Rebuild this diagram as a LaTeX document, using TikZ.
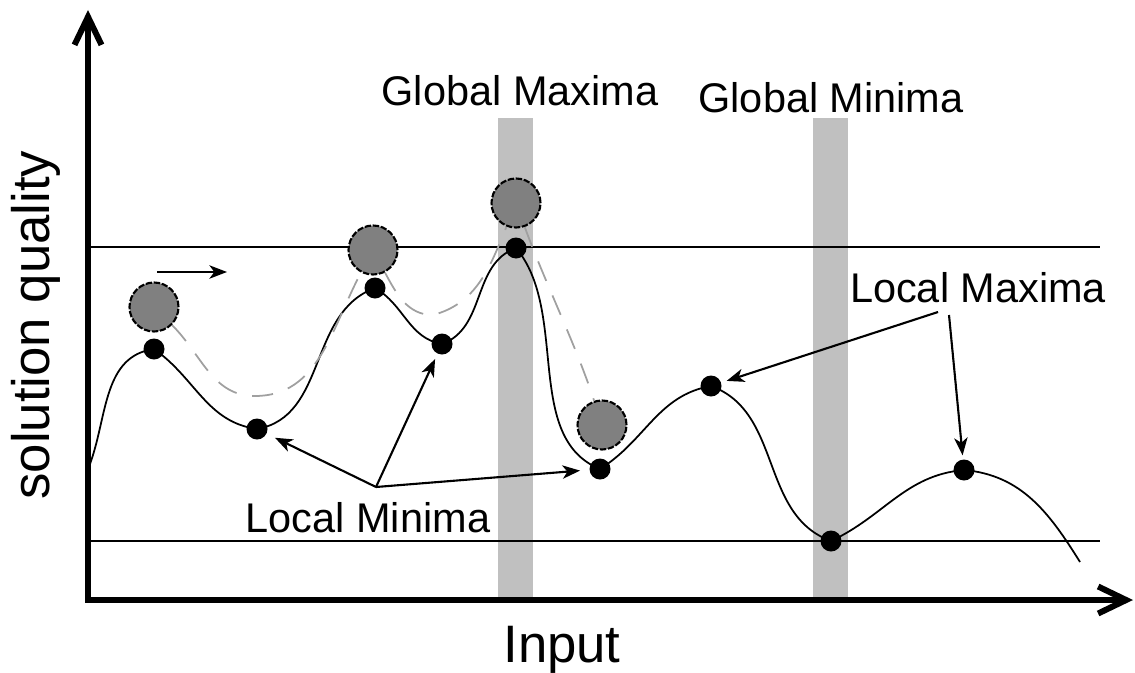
\documentclass[tikz,border=0pt]{standalone}
\usepackage{fontspec}
\setmainfont{Liberation Sans}
\usepackage{tikz}
\usetikzlibrary{arrows.meta}

\definecolor{ballgray}{RGB}{128,128,128}
\definecolor{bandgray}{RGB}{192,192,192}
\definecolor{trailgray}{RGB}{160,160,160}

\begin{document}
\begin{tikzpicture}[
  dot/.style = {circle, fill=black, inner sep=0pt, minimum size=0.21cm},
  ball/.style = {circle, draw=black, fill=ballgray, line width=0.6pt,
                 dash pattern=on 1.8pt off 0.5pt, inner sep=0pt, minimum size=0.49cm},
  lbl/.style = {font=\fontsize{11.8}{14}\selectfont, inner sep=0pt, anchor=base},
  ttl/.style = {font=\fontsize{15}{18}\selectfont, inner sep=0pt, anchor=base},
  ptr/.style = {line width=0.6pt, -{Stealth[length=5pt,width=3.8pt,inset=1.4pt]}},
  level/.style = {line width=0.55pt}
]
  \useasboundingbox (0,0) rectangle (11.35,6.72);

  % bands through the global optima
  \fill[bandgray] (4.98,0.72) rectangle (5.33,5.54);
  \fill[bandgray] (8.13,0.72) rectangle (8.48,5.54);

  % axes
  \coordinate (O) at (0.88,0.72);
  \coordinate (ytip) at (0.88,6.62);
  \coordinate (xtip) at (11.33,0.72);
  \draw[line width=1.7pt,
        {Straight Barb[length=2.8mm,width=2.7mm]}-{Straight Barb[length=2.8mm,width=2.7mm]}]
    (ytip) -- (O) -- (xtip);
  \node[ttl, rotate=90] (ylab) at (0.50,3.47) {solution quality};
  \node[ttl] (xlab) at (5.62,0.10) {Input};

  % best and worst levels
  \draw[level] (0.88,4.25) -- (11.0,4.25);
  \draw[level] (0.88,1.31) -- (11.0,1.31);

  % the landscape
  \coordinate (c0) at (0.90,2.08);
  \coordinate (p1) at (1.54,3.23);
  \coordinate (p2) at (2.57,2.43);
  \coordinate (p3) at (3.75,3.84);
  \coordinate (p4) at (4.42,3.28);
  \coordinate (p5) at (5.16,4.24);
  \coordinate (p6) at (6.00,2.03);
  \coordinate (p7) at (7.11,2.86);
  \coordinate (p8) at (8.31,1.31);
  \coordinate (p9) at (9.64,2.02);
  \coordinate (c10) at (10.80,1.10);
  \draw[line width=0.5pt]
    (c0) to[out=70,in=188] (p1)
         to[out=-35,in=172] (p2)
         to[out=10,in=200] (p3)
         to[out=-30,in=170] (p4)
         to[out=20,in=200] (p5)
         to[out=-50,in=158,looseness=0.9] (p6)
         to[out=32,in=190] (p7)
         to[out=-20,in=160] (p8)
         to[out=25,in=185] (p9)
         to[out=-5,in=122] (c10);
  \foreach \i in {1,...,9}
    \node[dot] (m\i) at (p\i) {};

  % the ball and its path
  \node[ball] (b1) at (1.54,3.65) {};
  \node[ball] (b2) at (3.73,4.22) {};
  \node[ball] (b3) at (5.16,4.69) {};
  \node[ball] (b4) at (6.02,2.47) {};
  \coordinate (t1) at (2.55,2.76);
  \coordinate (t2) at (4.33,3.57);
  \draw[trailgray, line width=0.5pt, dash pattern=on 6pt off 4.5pt]
    (b1) to[out=-45,in=180] (t1)
         to[out=0,in=-118] (b2)
         to[out=-62,in=180] (t2)
         to[out=15,in=-112] (b3)
         to[out=-70,in=108,looseness=0.8] (b4);
  \coordinate (r1) at (1.57,4.00);
  \coordinate (r2) at (2.27,4.00);
  \draw[ptr] (r1) -- (r2);

  % labels
  \node[lbl] (gmax) at (5.20,5.66) {Global Maxima};
  \node[lbl] (gmin) at (8.31,5.59) {Global Minima};
  \node[lbl] (lmax) at (9.78,3.70) {Local Maxima};
  \node[lbl] (lmin) at (3.68,1.40) {Local Minima};

  \coordinate (lmin0) at (3.76,1.85);
  \draw[ptr, shorten >=2.5pt] (lmin0) -- (m2);
  \draw[ptr, shorten >=1.5pt] (lmin0) -- (m4);
  \draw[ptr, shorten >=2.5pt] (lmin0) -- (m6);
  \coordinate (lmax0) at (9.38,3.60);
  \coordinate (lmax1) at (9.49,3.57);
  \draw[ptr, shorten >=1.5pt] (lmax0) -- (m7);
  \draw[ptr, shorten >=1pt] (lmax1) -- (m9);
\end{tikzpicture}
\end{document}
